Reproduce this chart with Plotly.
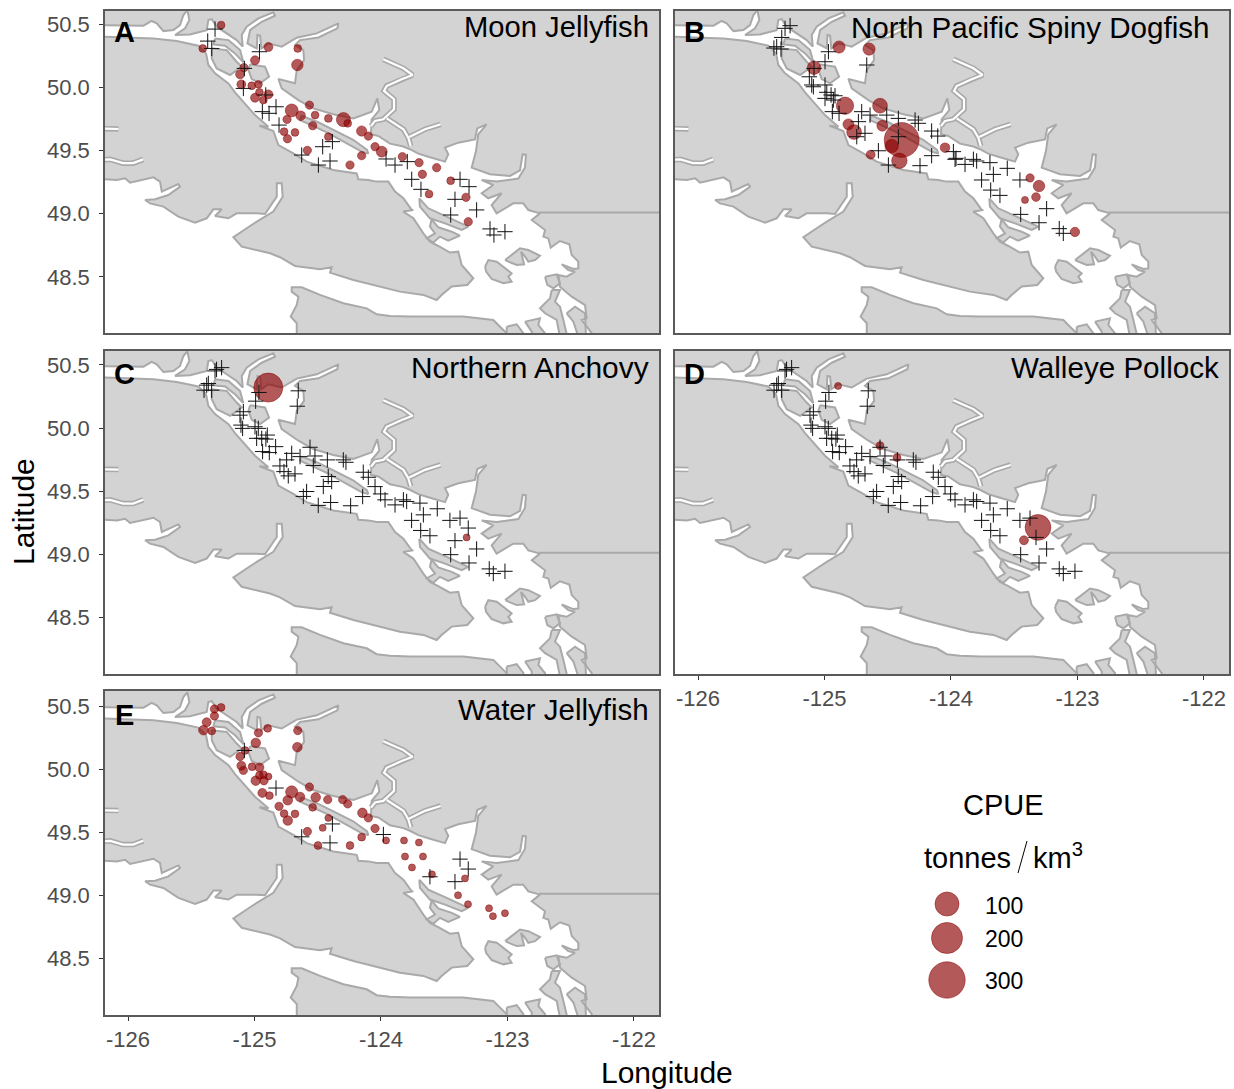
import plotly.graph_objects as go

W, H = 1234, 1089

# ---------- geography (lon, lat) ----------
MAINLAND = [(-126.4,50.492),(-125.878,50.487),(-125.813,50.524),(-125.773,50.505),(-125.720,50.444),(-125.641,50.452),
(-125.589,50.492),(-125.562,50.571),(-125.531,50.610),(-125.515,50.531),(-125.549,50.466),(-125.628,50.413),(-125.510,50.418),
(-125.378,50.452),(-125.365,50.531),(-125.338,50.539),(-125.299,50.479),(-125.220,50.426),(-125.141,50.373),(-125.093,50.321),
(-125.101,50.413),(-125.062,50.479),(-124.969,50.545),(-124.851,50.592),(-124.838,50.566),(-124.943,50.518),(-125.035,50.452),
(-125.056,50.347),(-124.982,50.307),(-124.977,50.413),(-124.956,50.408),(-124.946,50.307),(-124.890,50.347),(-124.785,50.321),
(-124.666,50.392),(-124.508,50.426),(-124.337,50.505),(-124.345,50.466),(-124.495,50.394),(-124.640,50.373),(-124.680,50.334),
(-124.614,50.294),(-124.608,50.215),(-124.666,50.136),(-124.680,50.031),(-124.811,50.065),(-124.785,49.991),(-124.653,49.899),
(-124.535,49.833),(-124.377,49.786),(-124.218,49.754),(-124.073,49.807),(-124.029,49.912),(-124.013,49.820),(-124.074,49.747),
(-124.079,49.628),(-124.021,49.615),(-123.929,49.554),(-123.823,49.531),(-123.771,49.510),(-123.705,49.475),(-123.626,49.451),
(-123.494,49.412),(-123.468,49.470),(-123.494,49.523),(-123.389,49.562),(-123.257,49.588),(-123.239,49.675),(-123.165,49.707),
(-123.231,49.628),(-123.249,49.496),(-123.283,49.364),(-123.138,49.312),(-122.980,49.299),(-122.901,49.343),(-122.880,49.470),
(-122.854,49.465),(-122.862,49.365),(-122.914,49.278),(-123.086,49.254),(-123.204,49.267),(-123.112,49.227),(-123.204,49.162),
(-123.152,49.122),(-123.046,49.162),(-123.125,49.069),(-123.086,49.003),(-122.954,49.082),(-122.875,49.082),(-122.835,49.029),
(-122.743,49.003),(-122.808,48.950),(-122.703,48.871),(-122.716,48.819),(-122.677,48.805),(-122.658,48.732),(-122.585,48.784),
(-122.511,48.758),(-122.492,48.674),(-122.440,48.621),(-122.440,48.568),(-122.479,48.563),(-122.571,48.600),(-122.519,48.555),
(-122.466,48.542),(-122.532,48.502),(-122.598,48.516),(-122.585,48.423),(-122.492,48.344),(-122.387,48.278),(-122.374,48.173),
(-122.413,48.160),(-122.334,48.055),(-122.321,47.96),(-121.5,47.96),(-121.5,50.8),(-126.4,50.8)]

VANCOUVER_ISLAND = [(-126.4,50.408),(-125.958,50.392),(-125.799,50.386),(-125.615,50.365),(-125.444,50.329),(-125.383,50.268),
(-125.365,50.176),(-125.312,50.110),(-125.206,50.031),(-125.154,49.960),(-125.088,49.886),(-124.996,49.780),(-124.890,49.688),
(-124.961,49.696),(-124.851,49.654),(-124.811,49.543),(-124.693,49.477),(-124.587,49.412),(-124.377,49.346),(-124.192,49.319),
(-124.179,49.272),(-124.100,49.267),(-124.034,49.254),(-123.942,49.254),(-123.889,49.175),(-123.823,49.122),(-123.757,49.030),
(-123.744,49.030),(-123.824,49.017),(-123.744,48.964),(-123.665,48.845),(-123.613,48.779),(-123.547,48.745),(-123.455,48.693),
(-123.389,48.700),(-123.362,48.595),(-123.270,48.490),(-123.318,48.437),(-123.441,48.424),(-123.521,48.358),(-123.560,48.318),
(-123.665,48.358),(-123.850,48.384),(-124.008,48.424),(-124.218,48.476),(-124.403,48.534),(-124.390,48.577),(-124.482,48.561),
(-124.680,48.587),(-124.798,48.656),(-124.877,48.687),(-125.101,48.740),(-125.167,48.814),(-125.062,48.885),(-124.982,48.938),
(-124.851,49.017),(-124.777,49.135),(-124.785,49.241),(-124.824,49.241),(-124.824,49.135),(-124.877,49.056),(-124.917,48.998),
(-124.982,49.003),(-125.141,49.003),(-125.206,48.964),(-125.312,48.982),(-125.259,49.035),(-125.325,49.035),(-125.378,48.964),
(-125.470,48.930),(-125.602,48.977),(-125.720,49.056),(-125.826,49.082),(-125.865,49.109),(-125.786,49.114),(-125.681,49.148),
(-125.589,49.214),(-125.602,49.235),(-125.733,49.175),(-125.747,49.254),(-125.799,49.288),(-125.878,49.272),(-125.984,49.246),
(-126.023,49.280),(-126.089,49.267),(-126.181,49.272),(-126.4,49.272)]

OLYMPIC = [(-124.666,47.95),(-124.666,48.134),(-124.714,48.187),(-124.666,48.279),(-124.653,48.345),(-124.706,48.384),(-124.706,48.418),
(-124.627,48.418),(-124.482,48.358),(-124.297,48.292),(-124.113,48.252),(-124.034,48.205),(-123.929,48.192),(-123.771,48.187),
(-123.349,48.187),(-123.112,48.160),(-123.007,48.055),(-122.993,47.95)]

TEXADA = [(-124.63,49.775),(-124.50,49.725),(-124.38,49.665),(-124.22,49.585),(-124.11,49.505),(-124.10,49.475),(-124.15,49.49),
(-124.30,49.57),(-124.42,49.64),(-124.55,49.70),(-124.64,49.74)]
QUADRA = [(-125.338,50.307),(-125.220,50.294),(-125.141,50.202),(-125.101,50.163),(-125.193,50.097),(-125.299,50.149),(-125.338,50.228)]
SONORA = [(-125.312,50.386),(-125.206,50.373),(-125.114,50.294),(-125.088,50.197),(-125.154,50.268),(-125.233,50.329),(-125.325,50.339)]
CORTES = [(-125.035,50.181),(-124.917,50.163),(-124.885,50.083),(-124.956,50.031),(-125.022,50.065),(-125.048,50.136)]
GALIANO = [(-123.697,49.122),(-123.626,49.043),(-123.481,48.977),(-123.310,48.898),(-123.362,48.872),(-123.494,48.924),(-123.613,48.964),(-123.692,49.056)]
SALT_SPRING = [(-123.600,48.956),(-123.547,48.893),(-123.441,48.858),(-123.376,48.827),(-123.468,48.787),(-123.534,48.819),(-123.586,48.772),
(-123.639,48.806),(-123.573,48.845),(-123.613,48.898)]
ORCAS = [(-123.019,48.634),(-122.953,48.687),(-122.901,48.726),(-122.835,48.713),(-122.743,48.668),(-122.782,48.634),(-122.835,48.621),
(-122.861,48.661),(-122.893,48.700),(-122.869,48.600),(-122.927,48.595),(-122.980,48.616)]
SAN_JUAN = [(-123.177,48.582),(-123.151,48.634),(-123.085,48.621),(-122.967,48.529),(-122.993,48.502),(-122.967,48.463),(-123.032,48.450),
(-123.125,48.484),(-123.169,48.542)]
FIDALGO = [(-122.703,48.502),(-122.611,48.521),(-122.585,48.450),(-122.637,48.410),(-122.685,48.437)]
WHIDBEY = [(-122.650,48.397),(-122.585,48.397),(-122.624,48.305),(-122.585,48.265),(-122.558,48.160),(-122.527,48.028),(-122.585,48.028),
(-122.611,48.160),(-122.703,48.213),(-122.743,48.252),(-122.664,48.331)]
CAMANO = [(-122.532,48.213),(-122.466,48.265),(-122.387,48.213),(-122.379,48.028),(-122.440,48.028),(-122.479,48.147)]
KITSAP_A = [(-123.006,48.107),(-122.927,48.126),(-122.874,48.055),(-122.874,47.99),(-123.006,47.99)]
KITSAP_B = [(-122.861,48.147),(-122.743,48.173),(-122.756,48.120),(-122.703,48.055),(-122.703,47.99),(-122.808,47.99),(-122.808,48.068)]
LANDS = [MAINLAND, VANCOUVER_ISLAND, OLYMPIC, TEXADA, QUADRA, SONORA, CORTES, GALIANO, SALT_SPRING, ORCAS, SAN_JUAN, FIDALGO, WHIDBEY,
         CAMANO, KITSAP_A, KITSAP_B]

JERVIS = [(-123.982,50.221),(-123.823,50.150),(-123.750,50.097),(-123.837,50.063),(-123.955,50.010),(-123.976,49.971),(-123.897,49.905),
(-123.897,49.826),(-123.982,49.747),(-124.047,49.734),(-124.079,49.694)]
SECHELT = [(-123.955,49.754),(-123.823,49.668),(-123.784,49.602),(-123.765,49.536)]
SALMON = [(-123.776,49.607),(-123.652,49.668),(-123.528,49.707)]
WEST_1 = [(-126.3,49.675),(-126.076,49.670)]
WEST_2 = [(-126.3,49.42),(-126.14,49.43),(-126.04,49.40),(-125.96,49.40),(-125.88,49.43)]
INLETS = [JERVIS, SECHELT, SALMON, WEST_1, WEST_2]
BORDER = [(-122.75,49.01),(-121.5,49.01)]

# ---------- stations ----------
EAST_STATIONS = [(-124.140,49.649),(-124.100,49.609),(-124.047,49.535),(-124.003,49.477),(-123.968,49.430),(-123.889,49.390),(-123.823,49.430),
(-123.797,49.417),(-123.692,49.404),(-123.555,49.359),(-123.758,49.267),(-123.665,49.311),(-123.686,49.187),(-123.613,49.145),(-123.455,49.267),
(-123.375,49.285),(-123.449,48.995),(-123.304,48.929),(-123.244,49.040),(-123.144,48.882),(-123.112,48.845),(-123.020,48.863)]

C_ZERO = [(-125.260,50.479),(-125.312,50.453),(-125.300,50.465),(-125.365,50.353),(-125.378,50.340),(-125.399,50.300),(-125.339,50.300),
(-124.965,50.282),(-124.991,50.213),(-124.654,50.295),(-124.662,50.173),(-125.088,50.129),(-125.115,50.102),(-125.107,50.023),(-125.094,49.997),
(-124.996,50.010),(-124.970,49.997),(-124.983,49.918),(-124.943,49.918),(-124.899,49.944),(-124.910,49.912),(-124.833,49.852),(-124.883,49.805),
(-124.936,49.813),(-124.706,49.799),(-124.561,49.847),(-124.522,49.778),(-124.640,49.773),(-124.746,49.747),(-124.424,49.747),(-124.277,49.728),
(-124.298,49.747),(-124.535,49.702),(-124.799,49.699),(-124.767,49.654),(-124.733,49.620),(-124.680,49.636),(-124.417,49.615),(-124.390,49.575),
(-124.456,49.536),(-124.588,49.496),(-124.614,49.457),(-124.496,49.386),(-124.398,49.409),(-124.240,49.383),(-124.145,49.456)] + EAST_STATIONS + [
(-123.310,49.206),(-123.415,49.106)]

D_ZERO = [p for p in C_ZERO if p not in [(-123.310,49.206),(-123.415,49.106)]] + [(-123.328,49.132)]

A_ZERO = [(-125.312,50.460),(-125.370,50.365),(-125.338,50.307),(-124.961,50.281),(-125.080,50.149),(-125.088,49.991),(-124.911,49.939),
(-124.830,49.846),(-124.938,49.807),(-124.885,49.794),(-124.806,49.701),(-124.384,49.570),(-124.461,49.530),(-124.627,49.464),(-124.495,49.385),
(-124.403,49.417),(-123.960,49.433),(-123.889,49.385),(-123.792,49.412),(-123.757,49.272),(-123.684,49.193),(-123.375,49.272),(-123.304,49.214),
(-123.415,49.114),(-123.449,48.990),(-123.244,49.030),(-123.138,48.880),(-123.107,48.832),(-123.020,48.858)]

B_ZERO = [(-125.272,50.487),(-125.312,50.466),(-125.338,50.394),(-125.378,50.321),(-125.344,50.302),(-125.40,50.31),(-124.969,50.281),(-124.996,50.202),
(-124.666,50.176),(-125.083,50.149),(-125.120,50.083),(-125.101,50.018),(-125.088,50.004),(-124.996,50.018),(-124.982,49.960),(-124.948,49.939),
(-124.917,49.933),(-124.996,49.912),(-124.930,49.899),(-124.938,49.807),(-124.885,49.794),(-124.706,49.807),(-124.640,49.780),(-124.508,49.780),
(-124.732,49.728),(-124.680,49.636),(-124.745,49.609),(-124.416,49.754),(-124.284,49.741),(-124.258,49.715),(-124.153,49.654),(-124.105,49.614),
(-124.416,49.609),(-124.574,49.498),(-124.495,49.385),(-124.153,49.459),(-124.245,49.380),(-123.981,49.491),(-123.960,49.438)] + [
    p for p in EAST_STATIONS[4:] if p not in [(-123.375,49.285),(-123.020,48.863)]]

E_ZERO = [(-124.830,49.849),(-125.080,50.147),(-124.384,49.564),(-124.627,49.462),(-124.403,49.414),(-123.981,49.480),(-123.375,49.285),
(-123.310,49.206),(-123.415,49.106),(-123.613,49.145)]

# ---------- catches: lon, lat, CPUE (tonnes/km3) ----------
A_CATCH = [(-125.264,50.492,0.2),(-125.409,50.307,0.2),(-124.890,50.318,1.3),(-124.658,50.307,0.2),(-124.661,50.176,7.1),(-124.996,50.213,1.3),
(-125.083,50.155,0.6),(-125.114,50.102,1.3),(-125.104,50.023,1.3),(-125.022,50.012,0.2),(-124.969,50.023,0.2),(-124.961,49.960,0.2),(-124.890,49.944,1.3),
(-124.996,49.917,1.3),(-124.930,49.899,0.2),(-124.706,49.817,11.8),(-124.635,49.775,2.3),(-124.566,49.859,0.6),(-124.521,49.780,0.2),(-124.416,49.754,0.2),
(-124.297,49.744,17.5),(-124.263,49.715,0.2),(-124.743,49.746,0.6),(-124.540,49.696,0.6),(-124.766,49.649,0.2),(-124.680,49.643,0.2),(-124.740,49.593,0.6),
(-124.416,49.609,0.2),(-124.582,49.501,0.6),(-124.153,49.654,3.6),(-124.100,49.614,0.6),(-124.047,49.530,0.6),(-123.994,49.491,5.2),(-124.153,49.459,0.6),
(-124.245,49.385,0.6),(-123.831,49.451,0.6),(-123.699,49.404,0.6),(-123.560,49.364,0.6),(-123.673,49.312,0.6),(-123.620,49.156,0.2),(-123.449,49.261,0.2),
(-123.328,49.130,0.6),(-123.310,48.937,0.6)]

B_CATCH = [(-124.885,50.318,9.3),(-124.648,50.302,9.3),(-125.083,50.155,14.5),(-124.838,49.854,37),(-124.561,49.854,20.9),(-124.811,49.707,5.2),
(-124.766,49.646,20.9),(-124.543,49.696,5.2),(-124.390,49.583,268),(-124.469,49.535,14.5),(-124.408,49.419,24.5),(-124.635,49.467,1.3),(-124.047,49.522,2.3),
(-123.375,49.283,0.6),(-123.304,49.219,7),(-123.328,49.132,1),(-123.415,49.109,0),(-123.020,48.856,2)]

C_CATCH = [(-124.891,50.321,168),(-123.323,49.132,0)]

D_CATCH = [(-124.893,50.334,0),(-124.561,49.860,0.3),(-124.427,49.765,0.3),(-123.312,49.211,122),(-123.423,49.109,1.3)]

E_CATCH = [(-125.264,50.489,0.2),(-125.317,50.476,0.6),(-125.317,50.421,0.6),(-125.378,50.371,1.3),(-125.404,50.308,2.3),(-125.338,50.302,0.2),(-124.896,50.323,0.2),
(-124.969,50.287,0.6),(-124.658,50.305,0.6),(-124.990,50.207,2.3),(-124.661,50.173,2.3),(-125.075,50.147,0.2),(-125.114,50.099,0.6),(-125.104,50.026,1.3),
(-125.088,49.989,0.6),(-125.019,50.018,0.2),(-124.961,50.013,1.3),(-124.961,49.949,0.2),(-124.930,49.955,0.2),(-124.890,49.941,0),(-124.990,49.907,2.3),
(-124.925,49.907,0.6),(-124.938,49.810,1.3),(-124.882,49.789,0.2),(-124.706,49.818,9.3),(-124.640,49.778,2.3),(-124.566,49.857,0.6),(-124.516,49.775,2.3),
(-124.737,49.752,2.3),(-124.421,49.757,0.6),(-124.303,49.757,0.6),(-124.263,49.723,0.6),(-124.540,49.696,0.2),(-124.806,49.704,0.6),(-124.766,49.646,0.2),
(-124.680,49.644,0.2),(-124.737,49.591,2.3),(-124.416,49.612,0),(-124.461,49.533,0),(-124.582,49.504,0.6),(-124.147,49.652,2.3),(-124.100,49.612,0.6),
(-124.047,49.528,0.6),(-124.153,49.459,0.2),(-124.245,49.393,0.2),(-124.498,49.393,0.2),(-123.960,49.433,0),(-123.818,49.433,0),(-123.700,49.417,0),
(-123.810,49.306,0),(-123.668,49.306,0),(-123.755,49.219,0),(-123.597,49.164,0),(-123.336,49.132,0),(-123.391,48.998,0),(-123.312,48.927,0),
(-123.146,48.895,0),(-123.115,48.832,0),(-123.020,48.856,0)]

PANELS = [
    ("A", "Moon Jellyfish", A_ZERO, A_CATCH),
    ("B", "North Pacific Spiny Dogfish", B_ZERO, B_CATCH),
    ("C", "Northern Anchovy", C_ZERO, C_CATCH),
    ("D", "Walleye Pollock", D_ZERO, D_CATCH),
    ("E", "Water Jellyfish", E_ZERO, E_CATCH),
]
LEGEND_CPUE = [100, 200, 300]
LON_TICKS = [-126, -125, -124, -123, -122]
LAT_TICKS = [48.5, 49.0, 49.5, 50.0, 50.5]

# ---------- layout constants (pixels) ----------
BOXES = [(105, 659, 11, 333), (675, 1229, 11, 333), (105, 659, 351, 674), (675, 1229, 351, 674), (105, 659, 691, 1015)]
LAT_RANGES = [(48.057, 50.603), (48.057, 50.603), (48.048, 50.611), (48.048, 50.611), (48.048, 50.619)]
TITLE_RIGHT = [651, 1212, 651, 1221, 651]
TITLE_SIZE = [29.2, 29.6, 29.9, 29.6, 29.5]
TITLE_Y = [27, 27, 368, 368, 709]
TAG_POS = [(124, 32), (694, 32), (124, 374), (694, 374), (124, 715)]
SHOW_X = [False, False, False, True, True]
SHOW_Y = [True, False, True, False, True]
LAND = "#D3D3D3"
COAST = "#A9A9A9"
FONT = "Liberation Sans"

def px(x): return x / W
def py(y): return 1 - y / H
def diam(c): return 7 + 1.7 * c ** 0.5
def flat(polys):
    xs, ys = [], []
    for p in polys:
        pts = list(p)
        if pts[0] != pts[-1]: pts = pts + [pts[0]]
        xs += [q[0] for q in pts] + [None]
        ys += [q[1] for q in pts] + [None]
    return xs, ys
def flat_open(polys):
    xs, ys = [], []
    for p in polys:
        xs += [q[0] for q in p] + [None]
        ys += [q[1] for q in p] + [None]
    return xs, ys

fig = go.Figure()
ann = []
layout = {}
land_x, land_y = flat(LANDS)
inlet_x, inlet_y = flat_open(INLETS)
for i, (tag, title, zero, catch) in enumerate(PANELS):
    n = "" if i == 0 else str(i + 1)
    xa, ya = "x" + n, "y" + n
    kw = dict(xaxis=xa, yaxis=ya, showlegend=False, hoverinfo="skip")
    fig.add_trace(go.Scatter(x=land_x, y=land_y, mode="lines", fill="toself", fillcolor=LAND,
                             line=dict(color=COAST, width=2), name="land", **kw))
    fig.add_trace(go.Scatter(x=inlet_x, y=inlet_y, mode="lines", line=dict(color=COAST, width=5.5), name="inlet edge", **kw))
    fig.add_trace(go.Scatter(x=inlet_x, y=inlet_y, mode="lines", line=dict(color="white", width=2.2), name="inlet", **kw))
    fig.add_trace(go.Scatter(x=[p[0] for p in BORDER], y=[p[1] for p in BORDER], mode="lines",
                             line=dict(color=COAST, width=2), name="border", **kw))
    order = sorted(catch, key=lambda c: -c[2])
    fig.add_trace(go.Scatter(x=[c[0] for c in order], y=[c[1] for c in order], mode="markers", name="CPUE",
                             marker=dict(size=[diam(c[2]) for c in order], color="rgba(139,0,0,0.65)", opacity=1,
                                         line=dict(color="rgba(139,0,0,0.6)", width=0.8)), **kw))
    fig.add_trace(go.Scatter(x=[z[0] for z in zero], y=[z[1] for z in zero], mode="markers", name="zero",
                             marker=dict(symbol="cross-thin", size=11, color="black", line=dict(color="#111111", width=1)), **kw))
    x0, x1, y0, y1 = BOXES[i]
    layout["xaxis" + n] = dict(domain=[px(x0), px(x1)], range=[-126.182, -121.802], anchor=ya, tickvals=LON_TICKS if SHOW_X[i] else [],
                               ticktext=[str(v) for v in LON_TICKS] if SHOW_X[i] else [], ticks="outside" if SHOW_X[i] else "", ticklen=4,
                               tickcolor="#333333", tickfont=dict(size=22, color="#4D4D4D", family=FONT), showgrid=False, zeroline=False,
                               showline=True, mirror=True, linecolor="#5A5A5A", linewidth=1.6)
    layout["yaxis" + n] = dict(domain=[py(y1), py(y0)], range=list(LAT_RANGES[i]), anchor=xa, tickvals=LAT_TICKS if SHOW_Y[i] else [],
                               ticktext=[f"{v:.1f}" for v in LAT_TICKS] if SHOW_Y[i] else [], ticks="outside" if SHOW_Y[i] else "", ticklen=4,
                               ticklabelstandoff=5, tickcolor="#333333", tickfont=dict(size=22, color="#4D4D4D", family=FONT), showgrid=False,
                               zeroline=False, showline=True, mirror=True, linecolor="#5A5A5A", linewidth=1.6)
    ann.append(dict(text=title, xref="paper", yref="paper", x=px(TITLE_RIGHT[i]), y=py(TITLE_Y[i]), xanchor="right", yanchor="middle",
                    showarrow=False, font=dict(size=TITLE_SIZE[i], color="black", family=FONT)))
    ann.append(dict(text=f"<b>{tag}</b>", xref="paper", yref="paper", x=px(TAG_POS[i][0]), y=py(TAG_POS[i][1]), xanchor="center", yanchor="middle",
                    showarrow=False, font=dict(size=29, color="black", family=FONT)))

# legend drawn on its own hidden axes, with the same size scale
LEGEND_ROW = [904, 938, 980]
layout["xaxis6"] = dict(domain=[px(900), px(1000)], range=[900, 1000], visible=False, anchor="y6")
layout["yaxis6"] = dict(domain=[py(1010), py(880)], range=[1010, 880], visible=False, anchor="x6")
fig.add_trace(go.Scatter(x=[947] * 3, y=LEGEND_ROW, xaxis="x6", yaxis="y6", mode="markers", showlegend=False, hoverinfo="skip",
                         marker=dict(size=[diam(c) for c in LEGEND_CPUE], color="rgba(139,0,0,0.65)", opacity=1,
                                     line=dict(color="rgba(139,0,0,0.6)", width=0.8))))
for c, y in zip(LEGEND_CPUE, [906, 939, 981]):
    ann.append(dict(text=str(c), xref="paper", yref="paper", x=px(983), y=py(y), xanchor="left", yanchor="middle", showarrow=False,
                    font=dict(size=23, color="black", family=FONT)))
ann.append(dict(text="CPUE", xref="paper", yref="paper", x=px(1003), y=py(805), xanchor="center", yanchor="middle", showarrow=False,
                font=dict(size=29, color="black", family=FONT)))
ann.append(dict(text="tonnes", xref="paper", yref="paper", x=px(1013), y=py(858), xanchor="right", yanchor="middle", showarrow=False,
                font=dict(size=29, color="black", family=FONT)))
ann.append(dict(text="km<sup>3</sup>", xref="paper", yref="paper", x=px(1031), y=py(856), xanchor="left", yanchor="middle", showarrow=False,
                font=dict(size=29, color="black", family=FONT)))
ann.append(dict(text="Longitude", xref="paper", yref="paper", x=px(667), y=py(1072), xanchor="center", yanchor="middle", showarrow=False,
                font=dict(size=30, color="black", family=FONT)))
ann.append(dict(text="Latitude", xref="paper", yref="paper", x=px(24), y=py(512), xanchor="center", yanchor="middle", showarrow=False,
                textangle=-90, font=dict(size=30, color="black", family=FONT)))

fig.update_layout(width=W, height=H, margin=dict(l=0, r=0, t=0, b=0), paper_bgcolor="white", plot_bgcolor="white",
                  font=dict(family=FONT), annotations=ann,
                  shapes=[dict(type="line", xref="paper", yref="paper", x0=px(1018), y0=py(873), x1=px(1027), y1=py(841),
                               line=dict(color="black", width=1))],
                  **layout)
fig.write_html("out.html", config={"displayModeBar": False},
               post_script="document.body.style.margin='0';document.body.style.overflow='hidden';")
